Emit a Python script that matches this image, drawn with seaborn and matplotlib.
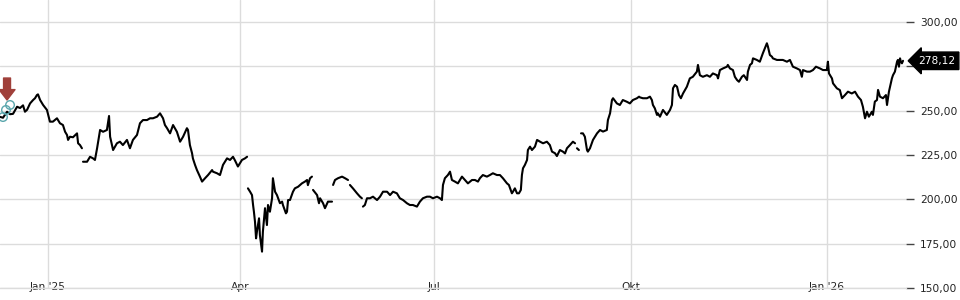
import numpy as np
import pandas as pd
import matplotlib
matplotlib.use("Agg")
import matplotlib.pyplot as plt
import matplotlib.dates as mdates
from matplotlib.ticker import FuncFormatter
import seaborn as sns

# ---- data (days since 2025-01-01, price); NaN = gap in the line
days = [-22.5, -21.1, -19.2, -17.8, -16.4, -14.5, -13.1, -11.7, -10.8, -9.8, -8.4, -7.0, -6.1,
        -5.2, -4.7, -3.7, -2.3, -0.5, 0.9, 2.3, 4.2, 5.6, 7.0, 8.0, 8.9, 9.4, 10.3, 11.7, 13.6,
        14.1, 15.0, 15.9, np.nan, 16.4, 18.3, 19.7, 21.1, 22.0, 23.0, 24.4, 25.8, 27.6, 28.6,
        29.1, 30.5, 32.3, 33.7, 35.1, 37.0, 38.4, 39.8, 41.7, 43.1, 44.5, 46.4, 47.8, 49.2,
        51.1, 52.5, 53.9, 54.8, 55.8, 57.2, 58.6, 60.4, 61.9, 63.3, 65.1, 65.6, 66.5, 67.5,
        67.9, 68.9, 69.8, 71.2, 72.2, 73.6, 75.0, 76.9, 77.3, 79.2, 80.6, 82.0, 83.9, 85.3,
        86.7, 87.6, 89.0, 90.9, 92.3, 93.3, np.nan, 93.7, 94.7, 95.6, 96.1, 96.5, 97.0, 97.5,
        97.9, 98.9, 99.3, 100.3, 100.7, 101.7, 102.6, 103.1, 104.0, 105.0, 105.4, 106.4, 107.3,
        108.7, 109.7, 110.1, 111.5, 112.0, 112.5, 113.4, 114.8, 115.7, 117.2, 119.0, 120.4,
        121.4, 121.8, 122.8, 123.7, np.nan, 124.2, 126.1, 127.0, 127.5, 128.9, 129.8, 131.2,
        133.1, np.nan, 133.6, 134.5, 135.9, 137.8, 139.2, 140.6, np.nan, 141.5, 142.9, 144.8,
        146.2, 147.1, np.nan, 147.6, 148.5, 149.5, 150.9, 152.3, 154.2, 155.6, 157.0, 158.9,
        160.3, 161.7, 163.5, 164.9, 166.4, 168.2, 169.6, 171.0, 172.9, 174.3, 175.7, 177.6,
        179.0, 180.4, 182.3, 183.7, 184.6, 185.1, 186.0, 187.4, 188.4, 189.3, 190.7, 192.1,
        194.0, 195.4, 196.8, 198.7, 200.1, 201.5, 202.4, 203.8, 205.7, 207.1, 208.5, 210.4,
        211.8, 213.2, 215.1, 216.0, 217.4, 217.9, 218.8, 219.8, 220.7, 221.6, 222.1, 222.6,
        223.5, 224.5, 224.9, 225.9, 226.8, 228.2, 229.2, 230.6, 232.0, 233.8, 235.2, 236.2,
        237.6, 238.5, 239.9, 241.3, 242.3, 243.2, 244.6, 246.0, 247.0, np.nan, 247.9, 248.8,
        np.nan, 249.8, 250.7, 251.6, 252.6, 253.0, 254.0, 255.4, 257.3, 258.7, 260.1, 261.9,
        262.4, 263.4, 264.3, 264.8, 266.6, 268.0, 269.4, 271.3, 272.7, 274.1, 276.0, 277.0,
        277.4, 278.8, 280.7, 282.1, 283.0, 283.5, 284.4, 285.4, 285.8, 286.8, 288.2, 290.0,
        291.5, 292.4, 292.9, 293.8, 294.8, 295.7, 296.6, 297.6, 299.4, 300.8, 302.2, 304.1,
        304.6, 305.5, 306.9, 308.8, 310.2, 311.6, 313.5, 314.0, 314.9, 316.3, 318.2, 318.6,
        319.6, 321.0, 321.9, 322.9, 323.8, 325.2, 326.1, 327.6, 328.0, 329.0, 329.9, 330.4,
        332.2, 333.6, 335.0, 336.9, 337.4, 338.3, 339.3, 339.7, 341.6, 343.0, 344.4, 346.3,
        347.7, 349.1, 351.0, 352.4, 353.3, 353.8, 355.7, 357.1, 358.5, 359.9, 361.8, 363.2,
        365.0, 365.5, 366.0, 367.4, 367.9, 369.7, 371.1, 372.1, 373.5, 374.9, 376.7, 378.2,
        379.6, 381.0, 381.9, 382.9, 383.8, 384.7, 386.1, 386.6, 387.5, 388.5, 389.0, 389.9,
        391.3, 392.7, 393.2, 394.1, 395.5, 396.0, 396.9, 397.9, 398.3, 398.8, 399.3, 399.7,
        400.2, 400.7]

prices = [246.5, 246.0, 249.4, 248.0, 248.2, 252.2, 251.5, 253.0, 249.4, 250.5, 254.1, 256.0, 257.0,
          258.8, 259.2, 256.0, 253.2, 250.4, 243.8, 243.8, 245.7, 242.9, 241.9, 238.1, 236.3,
          233.5, 235.3, 235.0, 237.2, 231.6, 230.6, 228.8, np.nan, 221.2, 221.2, 224.0, 223.1,
          222.2, 228.8, 239.1, 238.1, 239.1, 247.0, 235.3, 227.8, 231.6, 232.5, 230.6, 233.5,
          228.8, 233.5, 236.3, 242.9, 244.7, 244.7, 245.7, 245.7, 246.6, 248.5, 245.7, 241.9,
          240.1, 237.2, 241.9, 238.1, 232.5, 235.3, 240.1, 239.1, 230.6, 226.0, 223.1, 219.4,
          216.5, 212.8, 210.0, 211.9, 213.7, 216.5, 215.6, 214.7, 213.7, 219.4, 223.1, 222.2,
          224.0, 222.0, 218.5, 222.2, 223.1, 224.0, np.nan, 206.2, 204.3, 202.4, 196.8, 193.0,
          187.4, 178.0, 181.7, 189.3, 179.9, 170.5, 181.7, 195.0, 185.5, 196.8, 193.0, 200.6,
          211.9, 204.3, 202.4, 197.8, 198.7, 196.8, 192.1, 193.0, 199.6, 199.6, 204.3, 206.2,
          207.1, 209.0, 210.0, 210.9, 208.0, 211.9, 212.8, np.nan, 205.3, 202.4, 197.8, 200.6,
          197.8, 195.0, 198.7, 198.7, np.nan, 208.1, 210.9, 211.9, 212.8, 211.9, 210.9, np.nan,
          208.1, 206.2, 203.4, 201.5, 200.6, np.nan, 195.9, 196.8, 200.6, 200.6, 201.5, 199.6,
          201.5, 204.3, 204.3, 202.4, 204.3, 203.4, 200.6, 199.6, 197.8, 196.8, 196.8, 195.9,
          198.7, 200.6, 201.5, 201.5, 200.6, 201.5, 200.6, 199.6, 208.1, 211.9, 213.7, 215.6,
          210.9, 210.0, 209.0, 212.8, 210.9, 209.0, 210.9, 210.9, 210.0, 211.9, 213.7, 212.8,
          213.7, 214.7, 213.7, 213.7, 211.9, 209.0, 208.1, 203.4, 204.3, 206.2, 203.4, 203.4,
          205.3, 213.7, 217.5, 219.4, 222.2, 227.8, 229.7, 227.8, 229.7, 233.5, 232.5, 231.6,
          232.5, 230.6, 226.9, 226.0, 224.4, 227.8, 226.9, 225.9, 228.8, 230.6, 232.5, 231.6,
          np.nan, 228.8, 227.8, np.nan, 237.2, 237.2, 235.3, 227.8, 226.9, 228.8, 233.5, 237.2,
          239.1, 238.2, 239.1, 244.7, 248.5, 256.0, 257.0, 254.1, 253.2, 256.0, 255.0, 254.1,
          256.0, 257.0, 257.9, 257.5, 257.0, 257.0, 257.9, 256.0, 253.2, 251.3, 247.6, 248.5,
          246.6, 250.4, 247.6, 250.4, 253.2, 262.6, 264.5, 263.5, 258.8, 257.0, 259.7, 263.5,
          268.2, 269.1, 272.0, 275.8, 270.0, 269.1, 270.0, 269.1, 271.0, 270.0, 268.2, 272.9,
          273.8, 274.8, 275.8, 273.8, 272.9, 269.1, 267.3, 266.3, 269.1, 270.0, 267.3, 272.0,
          275.8, 276.7, 279.5, 278.6, 277.6, 282.3, 288.0, 286.1, 281.4, 280.4, 279.5, 278.6,
          278.6, 278.6, 277.6, 278.6, 274.8, 273.8, 272.9, 269.1, 272.9, 272.0, 272.0, 272.9,
          274.8, 273.8, 272.9, 272.9, 277.6, 271.0, 268.2, 265.4, 262.6, 261.6, 257.0, 258.8,
          260.7, 259.7, 260.7, 257.9, 256.0, 252.2, 245.7, 249.4, 246.6, 249.4, 247.6, 255.1,
          256.0, 261.7, 257.9, 257.0, 258.8, 253.2, 260.7, 268.2, 270.0, 272.0, 277.6, 278.6,
          274.8, 279.5, 277.6, 276.7, 278.12]

tick_dates = ["2025-01-01", "2025-04-01", "2025-07-01", "2025-10-01", "2026-01-01"]
tick_labels = ["Jan '25", "Apr", "Jul", "Okt", "Jan '26"]
y_ticks = [150, 175, 200, 225, 250, 275, 300]
hidden_y_label = 275  # covered by the last-price tag in the reference
last_price = 278.12
event_arrow_day = -19.2
event_arrow_top, event_arrow_tip = 268.4, 256.0
event_circle_days = [-17.8, -19.7, -21.1]
event_circle_prices = [253.2, 250.4, 246.4]

base = pd.Timestamp("2025-01-01")
df = pd.DataFrame({"day": days, "price": prices})
df["seg"] = df["price"].isna().cumsum()
df = df.dropna().reset_index(drop=True)
df["date"] = base + pd.to_timedelta(df["day"], unit="D")

sns.set_style("white")
plt.rcParams["font.family"] = ["DejaVu Sans"]

fig = plt.figure(figsize=(9.6, 3.0), dpi=100)
ax = fig.add_axes([0, 0.04, 906 / 960, 0.96])

sns.lineplot(data=df, x="date", y="price", units="seg", estimator=None,
             color="black", lw=1.5, ax=ax, legend=False, sort=True)

# axes limits
ax.set_xlim(base + pd.Timedelta(days=-22.5), base + pd.Timedelta(days=402.1))
ax.set_ylim(150, 312.4)

# grid
ax.grid(True, color="#dcdcdc", lw=1)
ax.set_axisbelow(True)
for s in ["top", "left", "right"]:
    ax.spines[s].set_visible(False)
ax.spines["bottom"].set_color("#dcdcdc")
ax.spines["bottom"].set_linewidth(1)

# x ticks
ax.set_xticks([mdates.date2num(pd.Timestamp(d)) for d in tick_dates])
ax.set_xticklabels(tick_labels)
ax.tick_params(axis="x", length=4, width=1, color="#444444", pad=-8,
               labelsize=7.7, labelcolor="#222222")

# y ticks on right
ax.yaxis.tick_right()
ax.set_yticks(y_ticks)
ax.yaxis.set_major_formatter(FuncFormatter(
    lambda v, p: "" if abs(v - hidden_y_label) < 1e-6 else f"{v:.2f}".replace(".", ",")))
ax.tick_params(axis="y", length=6, width=1, color="#444444", pad=4,
               labelsize=7.7, labelcolor="#222222")
ax.set_xlabel("")
ax.set_ylabel("")

# event marker
ev_x = mdates.date2num(base + pd.Timedelta(days=event_arrow_day))
ax.annotate("", xy=(ev_x, event_arrow_tip), xytext=(ev_x, event_arrow_top),
            arrowprops=dict(arrowstyle="simple,head_length=0.75,head_width=1.15,tail_width=0.5",
                            color="#a0403a", shrinkA=0, shrinkB=0, mutation_scale=10),
            annotation_clip=False, zorder=5)
ax.scatter([base + pd.Timedelta(days=d) for d in event_circle_days], event_circle_prices,
           s=38, facecolors="none", edgecolors="#5aa6ac", linewidths=1.0, zorder=6)

# last price label
ax.annotate(f"{last_price:.2f}".replace(".", ","), xy=(1.0, last_price),
            xycoords=("axes fraction", "data"), xytext=(12, 0), textcoords="offset pixels",
            ha="left", va="center", color="white", fontsize=7.7,
            bbox=dict(boxstyle="larrow,pad=0.35", fc="black", ec="black"),
            annotation_clip=False, zorder=10)

fig.savefig("out.png", dpi=100)
